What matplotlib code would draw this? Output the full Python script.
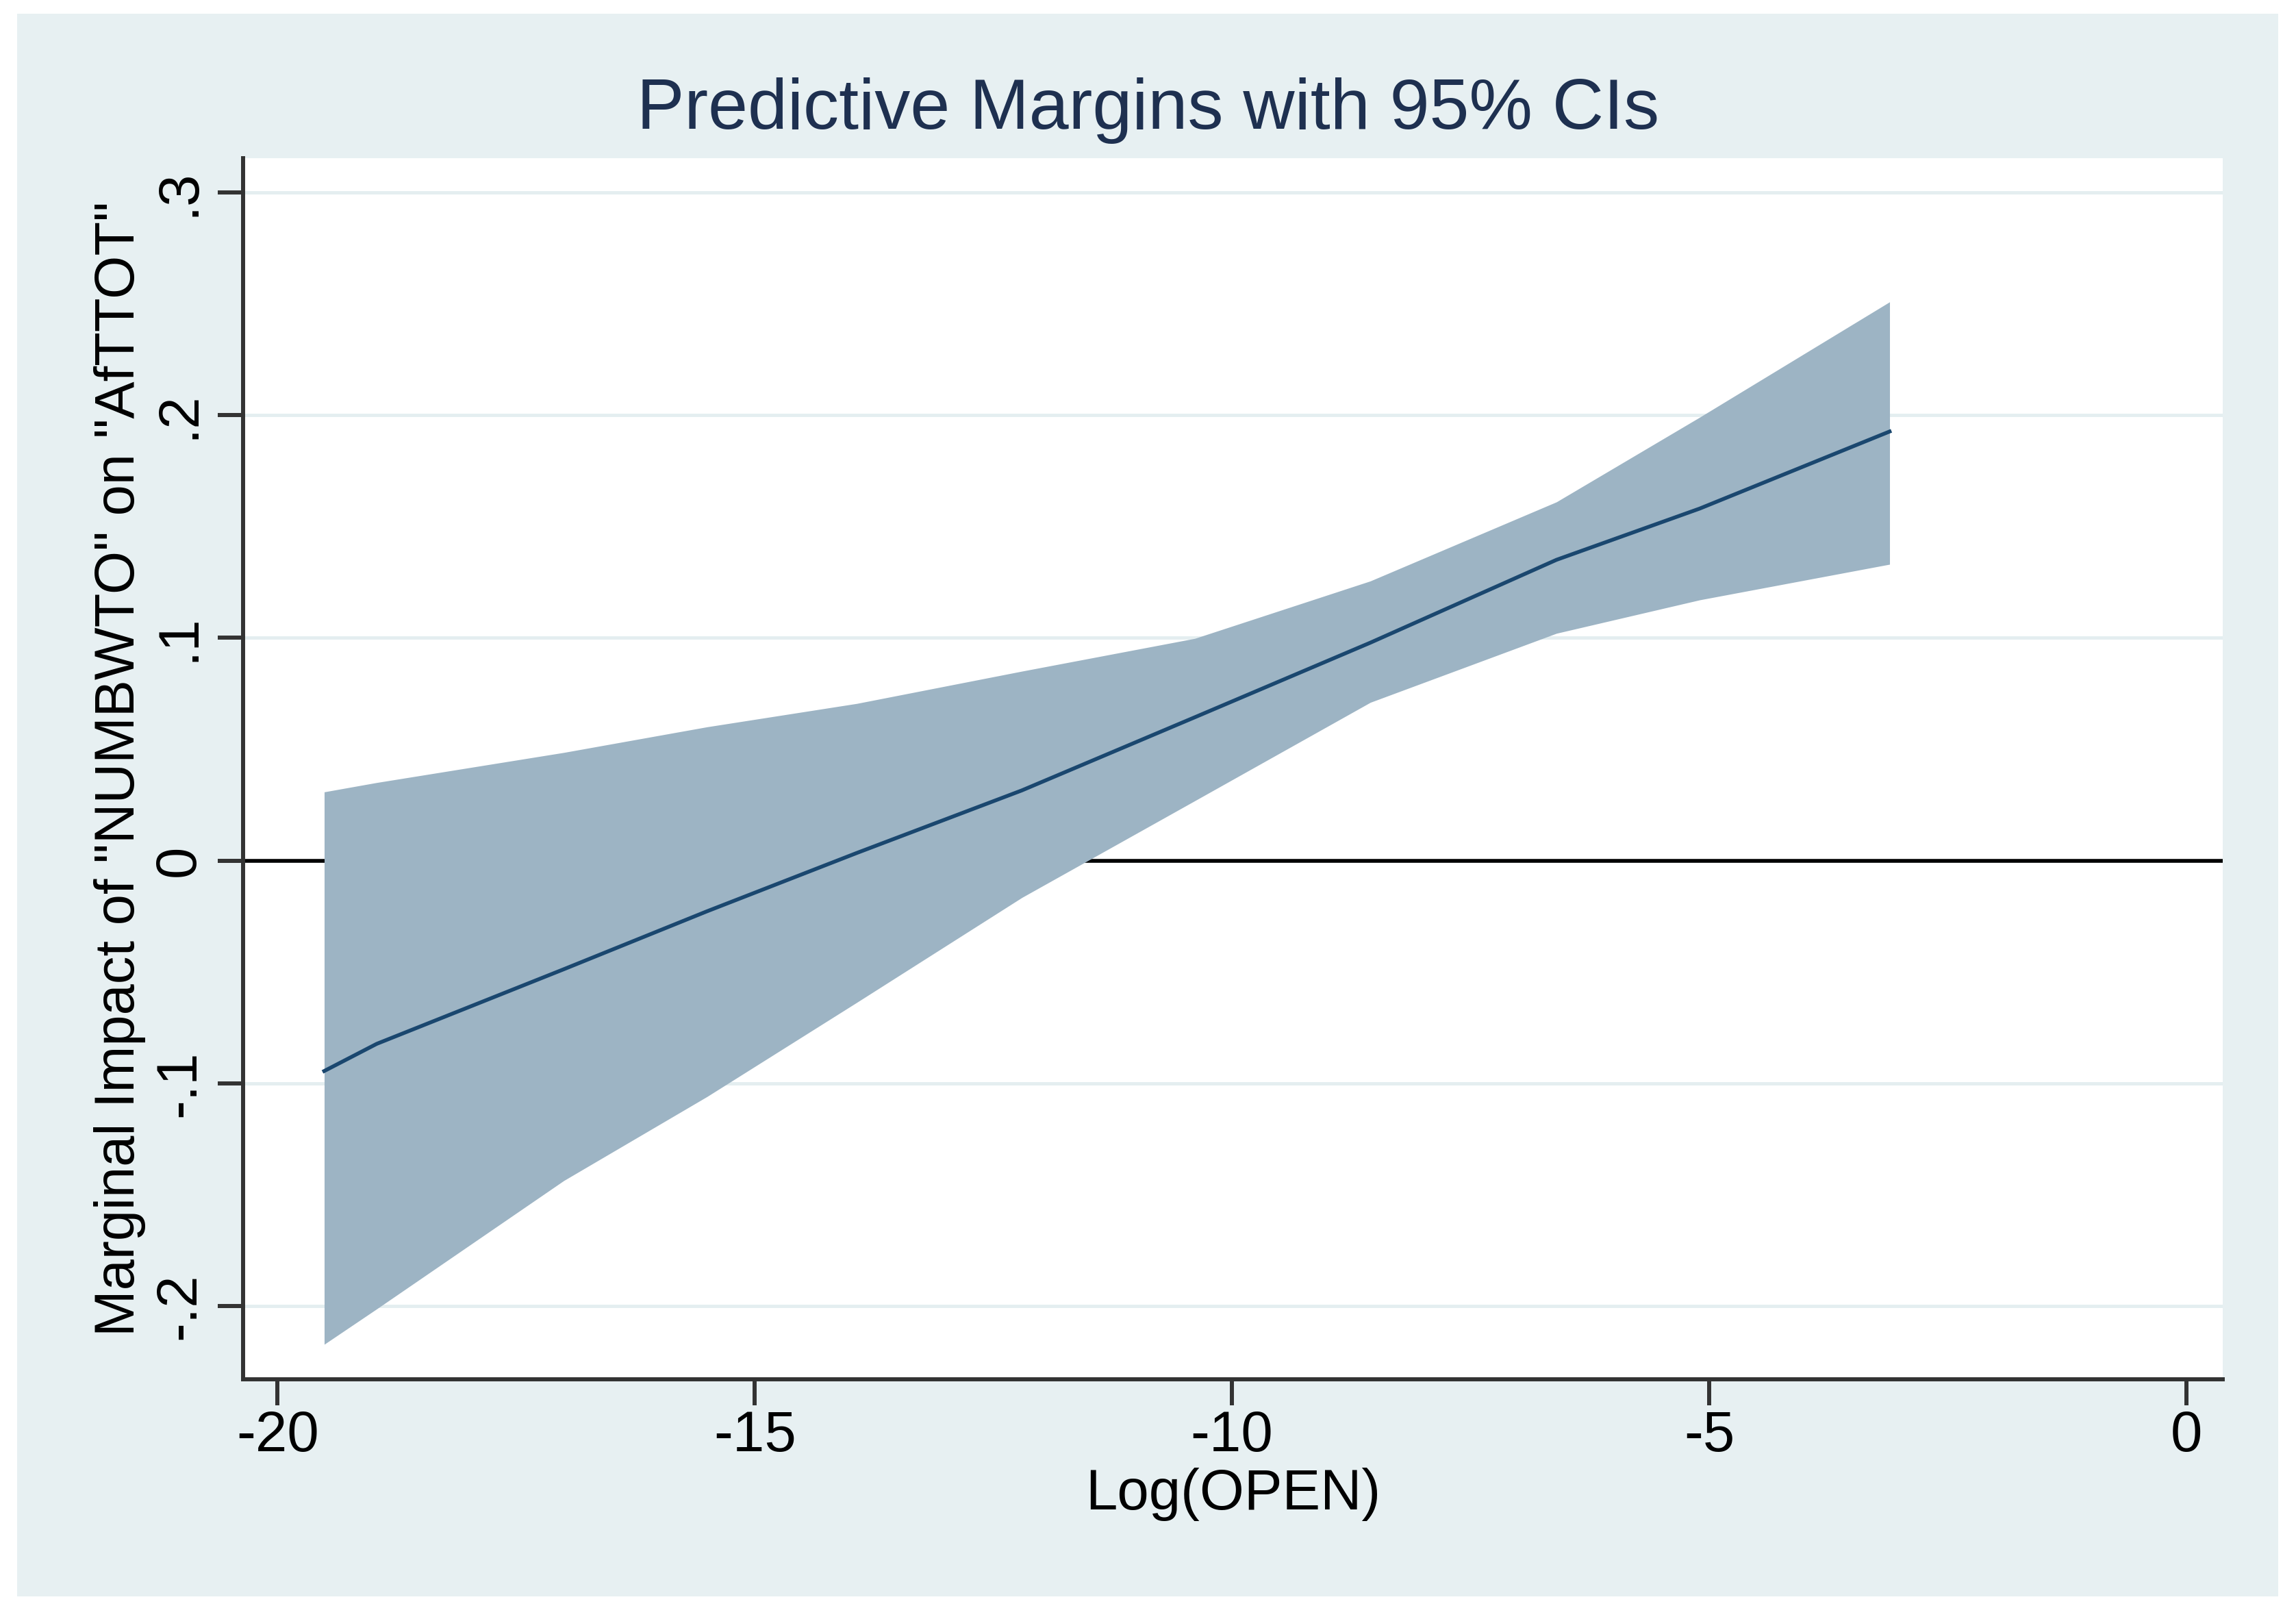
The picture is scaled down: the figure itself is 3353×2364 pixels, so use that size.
# Predictive margins plot (Stata s2color look)
import numpy as np
import matplotlib.pyplot as plt
from matplotlib.patches import Rectangle

# データ: 図から読み取った値
log_open = [-19.51, -18.96, -17.0, -15.5, -13.93, -12.2, -10.39, -8.55, -6.6, -5.1, -3.11]
margin = [-0.0945, -0.0823, -0.0488, -0.0228, 0.0034, 0.0315, 0.0643, 0.0978, 0.135, 0.158, 0.1926]
ci_low = [-0.2172, -0.2013, -0.1437, -0.106, -0.0637, -0.0166, 0.0268, 0.071, 0.102, 0.117, 0.133]
ci_high = [0.0308, 0.035, 0.0485, 0.060, 0.0705, 0.085, 0.0997, 0.1255, 0.161, 0.199, 0.2508]

x_ticks = [-20, -15, -10, -5, 0]
x_tick_labels = ['-20', '-15', '-10', '-5', '0']
y_ticks = [-0.2, -0.1, 0.0, 0.1, 0.2, 0.3]
y_tick_labels = ['-.2', '-.1', '0', '.1', '.2', '.3']

plt.rcParams['font.family'] = ['Liberation Sans', 'DejaVu Sans']

W, H = 3353, 2364
fig = plt.figure(figsize=(W / 100, H / 100), dpi=100)
fig.patch.set_facecolor('white')

# グラフ領域の背景
fig.patches.append(Rectangle((25 / W, 1 - 2331 / H), (3327 - 25) / W, (2331 - 20) / H,
                             transform=fig.transFigure, facecolor='#e7f0f2',
                             edgecolor='none', zorder=-10))

ax = fig.add_axes([355 / W, 1 - 2014 / H, (3246 - 355) / W, (2014 - 231) / H])
ax.set_facecolor('white')

# 格子線とゼロ線
for yt in y_ticks:
    ax.axhline(yt, color='#e4eef0', lw=3.5, zorder=1)
ax.axhline(0, color='black', lw=4, zorder=2)

# 信頼区間と予測値
ax.fill_between(log_open, ci_low, ci_high, color='#9db4c4', lw=0, zorder=3)
ax.plot(log_open, margin, color='#1a476f', lw=4, zorder=4)

ax.set_xlim(-20.36, 0.38)
ax.set_ylim(-0.2329, 0.3153)

ax.set_xticks(x_ticks)
ax.set_xticklabels(x_tick_labels)
ax.set_yticks(y_ticks)
ax.set_yticklabels(y_tick_labels, rotation=90, va='center')

for side in ['top', 'right']:
    ax.spines[side].set_visible(False)
for side in ['left', 'bottom']:
    ax.spines[side].set_color('#333333')
    ax.spines[side].set_linewidth(4.3)

ax.tick_params(axis='both', direction='out', length=27, width=4.3, color='#333333',
               labelsize=60, labelcolor='black')
ax.tick_params(axis='x', pad=5)
ax.tick_params(axis='y', pad=12)

ax.set_xlabel('Log(OPEN)', fontsize=60, labelpad=5)
ax.set_ylabel('Marginal Impact of "NUMBWTO" on "AfTTOT"', fontsize=58.5, labelpad=7)

fig.text(0.5, 1 - 188 / H, 'Predictive Margins with 95% CIs', ha='center', va='baseline',
         fontsize=75, color='#1e3050')

fig.savefig('out.png', dpi=100, facecolor=fig.get_facecolor())
